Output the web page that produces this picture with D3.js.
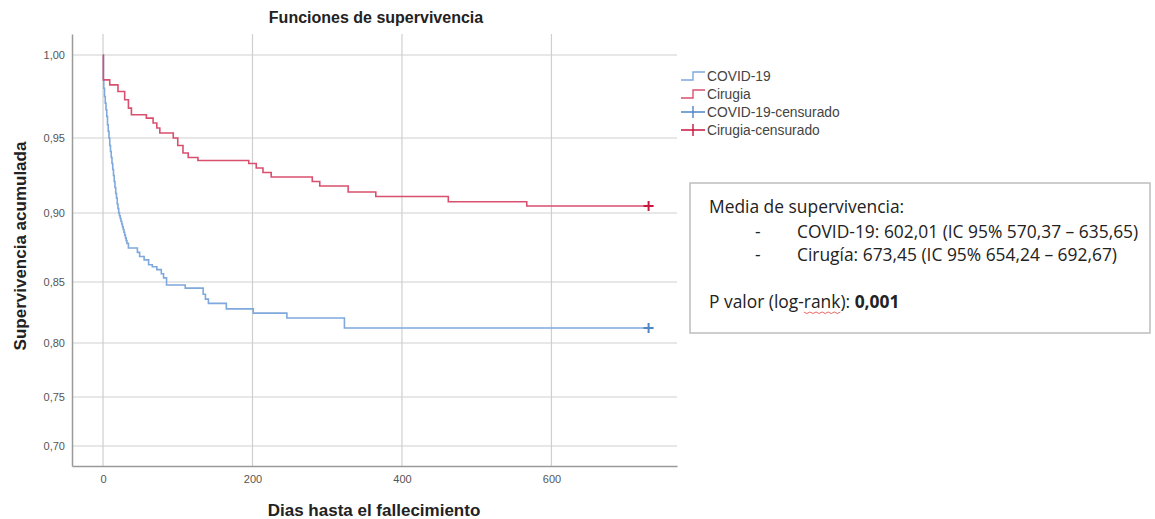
<!DOCTYPE html>
<html>
<head>
<meta charset="utf-8">
<script src="https://cdn.jsdelivr.net/npm/d3@7"></script>
<style>
  html, body { margin: 0; padding: 0; background: #fff; }
  svg { display: block; }
</style>
</head>
<body>
<svg id="chart" width="1155" height="519"></svg>
<script>
// ---- data ----
const title = "Funciones de supervivencia";
const xLabel = "Dias hasta el fallecimiento";
const yLabel = "Supervivencia acumulada";
const xTicks = [0, 200, 400, 600];
const yTicks = [0.70, 0.75, 0.80, 0.85, 0.90, 0.95, 1.00];
const seriesNames = ["COVID-19", "Cirugia"];
const legendLabels = ["COVID-19", "Cirugia", "COVID-19-censurado", "Cirugia-censurado"];
const followUpEnd = 730;

const covidDays = [0, 0.5, 1, 2, 3, 4, 5, 6, 7, 8, 9, 10, 11, 12, 13, 14, 15, 16, 17, 18, 19, 20, 21, 22, 23, 24, 25, 26, 27, 28, 29, 30, 31, 32, 34, 46, 49, 55, 61, 66, 72, 78, 81, 85, 110, 134, 137, 141, 165, 201, 246, 323];
const covidSurv = [1.000, 0.985, 0.980, 0.975, 0.971, 0.967, 0.963, 0.958, 0.954, 0.950, 0.945, 0.941, 0.937, 0.933, 0.929, 0.925, 0.921, 0.917, 0.913, 0.910, 0.906, 0.903, 0.900, 0.898, 0.896, 0.894, 0.892, 0.890, 0.888, 0.886, 0.884, 0.882, 0.880, 0.878, 0.8746, 0.8715, 0.8685, 0.866, 0.8625, 0.861, 0.859, 0.856, 0.853, 0.8475, 0.845, 0.840, 0.836, 0.8325, 0.828, 0.8245, 0.8205, 0.8123];

const surgDays = [0, 0.5, 9, 20, 29, 34, 38, 58, 67, 72, 76, 94, 100, 107, 114, 127, 195, 205, 214, 225, 280, 290, 328, 365, 462, 567];
const surgSurv = [1.000, 0.985, 0.982, 0.978, 0.973, 0.968, 0.964, 0.962, 0.959, 0.956, 0.953, 0.950, 0.945, 0.940, 0.937, 0.935, 0.933, 0.930, 0.927, 0.924, 0.921, 0.918, 0.914, 0.911, 0.9075, 0.9047];

const boxLines = [
  "Media de supervivencia:",
  "COVID-19: 602,01 (IC 95% 570,37 \u2013 635,65)",
  "Cirug\u00eda: 673,45 (IC 95% 654,24 \u2013 692,67)"
];
const pParts = ["P valor (log-", "rank", "): "];
const pValue = "0,001";

// ---- layout ----
const svg = d3.select("#chart");
const plot = { left: 72, right: 677, top: 34, bottom: 466 };
const colors = { line: ["#7fa8dc", "#d9506f"], cens: ["#4f86c6", "#c8163f"] };

const x = d3.scaleLinear().domain([-41.5, 768]).range([plot.left, plot.right]);
// The reference's vertical axis is not evenly spaced; a piecewise linear scale reproduces it.
const y = d3.scaleLinear()
  .domain([0.679, 0.70, 0.75, 0.80, 0.85, 0.90, 0.95, 1.00, 1.012])
  .range([466, 446, 397, 343, 282, 213, 138, 55, 34]);

// gridlines
const grid = svg.append("g");
grid.selectAll("line.h").data(yTicks).enter().append("line")
  .attr("x1", plot.left).attr("x2", plot.right)
  .attr("y1", d => y(d)).attr("y2", d => y(d))
  .attr("stroke", "#cfcfcf").attr("stroke-width", 1.2);
grid.selectAll("line.v").data(xTicks).enter().append("line")
  .attr("y1", plot.top).attr("y2", plot.bottom)
  .attr("x1", d => x(d)).attr("x2", d => x(d))
  .attr("stroke", "#cfcfcf").attr("stroke-width", 1.2);

// axes
const fmt = d => d3.format(".2f")(d).replace(".", ",");
const yAxis = svg.append("g").attr("transform", `translate(${plot.left},0)`)
  .call(d3.axisLeft(y).tickValues(yTicks).tickFormat(fmt).tickSize(0).tickPadding(7));
const xAxis = svg.append("g").attr("transform", `translate(0,${plot.bottom})`)
  .call(d3.axisBottom(x).tickValues(xTicks).tickSize(0).tickPadding(9));
[yAxis, xAxis].forEach(a => {
  a.select(".domain").attr("stroke", "#9a9a9a").attr("stroke-width", 1.5);
  a.selectAll("text").attr("fill", "#555").style("font-family", "Liberation Sans, Arial, sans-serif").style("font-size", "11px");
});

// curves
const line = d3.line().x(d => x(d[0])).y(d => y(d[1])).curve(d3.curveStepAfter);
const series = [
  d3.zip(covidDays, covidSurv),
  d3.zip(surgDays, surgSurv)
];
series.forEach((s, i) => {
  const pts = s.concat([[followUpEnd, s[s.length - 1][1]]]);
  svg.append("path").datum(pts)
    .attr("d", line).attr("fill", "none")
    .attr("stroke", colors.line[i]).attr("stroke-width", 1.6);
  const cx = x(followUpEnd), cy = y(s[s.length - 1][1]);
  svg.append("path")
    .attr("d", `M${cx - 5},${cy}H${cx + 5}M${cx},${cy - 5}V${cy + 5}`)
    .attr("stroke", colors.cens[i]).attr("stroke-width", 2);
});

// title and axis labels
const bold = "Liberation Sans, Arial, sans-serif";
svg.append("text").text(title).attr("x", 376).attr("y", 23)
  .attr("text-anchor", "middle").style("font-family", bold).style("font-weight", "bold").style("font-size", "16px").attr("fill", "#222");
svg.append("text").text(xLabel).attr("x", 374).attr("y", 516)
  .attr("text-anchor", "middle").style("font-family", bold).style("font-weight", "bold").style("font-size", "17px").attr("fill", "#222");
svg.append("text").text(yLabel)
  .attr("transform", `translate(26,${246}) rotate(-90)`)
  .attr("text-anchor", "middle").style("font-family", bold).style("font-weight", "bold").style("font-size", "17px").attr("fill", "#222");

// legend
const lg = svg.append("g");
const legY = [76, 94, 112, 130];
legendLabels.forEach((lab, i) => {
  const yy = legY[i];
  const c = i < 2 ? colors.line[i] : colors.cens[i - 2];
  if (i < 2) {
    lg.append("path").attr("d", `M681,${yy + 4}H693V${yy - 4}H705`)
      .attr("fill", "none").attr("stroke", c).attr("stroke-width", 1.4);
  } else {
    lg.append("path").attr("d", `M681,${yy}H705M693,${yy - 6}V${yy + 6}`)
      .attr("fill", "none").attr("stroke", c).attr("stroke-width", 1.4);
  }
  lg.append("text").text(lab).attr("x", 707).attr("y", yy + 5)
    .style("font-family", "Liberation Sans, Arial, sans-serif")
    .style("font-size", "13.8px").attr("fill", "#444");
});

// annotation box
const box = svg.append("g");
box.append("rect").attr("x", 690).attr("y", 183).attr("width", 460).attr("height", 150)
  .attr("fill", "#fff").attr("stroke", "#bdbdbd").attr("stroke-width", 1.5);
const bf = "Open Sans, Noto Sans, sans-serif";
const fs = "17.4px";
box.append("text").text(boxLines[0]).attr("x", 709).attr("y", 213)
  .style("font-family", bf).style("font-size", fs).attr("fill", "#222");
[boxLines[1], boxLines[2]].forEach((t, i) => {
  const yy = 238 + i * 23;
  box.append("text").text("-").attr("x", 755).attr("y", yy)
    .style("font-family", bf).style("font-size", fs).attr("fill", "#222");
  box.append("text").text(t).attr("x", 797).attr("y", yy)
    .style("font-family", bf).style("font-size", fs).attr("fill", "#222");
});
const pt = box.append("text").attr("x", 709).attr("y", 308)
  .style("font-family", bf).style("font-size", fs).attr("fill", "#222");
pParts.forEach(p => pt.append("tspan").text(p));
pt.append("tspan").text(pValue).style("font-weight", "bold");
// spell-check squiggle under "rank"
const node = pt.node();
const i0 = pParts[0].length, i1 = i0 + pParts[1].length - 1;
const sx0 = node.getStartPositionOfChar(i0).x;
const sx1 = node.getEndPositionOfChar(i1).x;
const nSq = Math.max(2, Math.round((sx1 - sx0) / 3));
const sq = d3.range(0, nSq + 1).map(k => [sx0 + k * (sx1 - sx0) / nSq, 312 + (k % 2 ? 1.5 : 0)]);
box.append("path").attr("d", d3.line()(sq)).attr("fill", "none").attr("stroke", "#e0403a").attr("stroke-width", 0.8);
</script>
</body>
</html>
